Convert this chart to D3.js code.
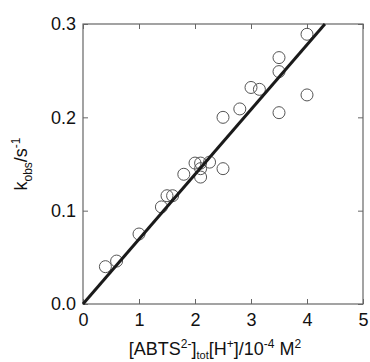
<html>
<head>
  <meta charset="utf-8" />
  <script src="https://cdnjs.cloudflare.com/ajax/libs/d3/7.8.5/d3.min.js"></script>
  <style>
    body { margin: 0; background: #fff; }
    text { font-family: "Liberation Sans", Arial, sans-serif; fill: #111; }
  </style>
</head>
<body>
  <svg width="370" height="362"></svg>
  <script>
  // measured points: x = [ABTS]tot[H+] (1e-4 M^2), y = kobs (1/s)
  const xVals = [0.4, 0.6, 1.0, 1.4, 1.5, 1.6, 1.8, 2.0, 2.1, 2.1, 2.1, 2.26, 2.5, 2.5, 2.8, 3.0, 3.15, 3.5, 3.5, 3.5, 4.0, 4.0]
  const yVals = [0.040, 0.046, 0.075, 0.104, 0.116, 0.116, 0.139, 0.151, 0.151, 0.145, 0.136, 0.152, 0.145, 0.200, 0.209, 0.232, 0.230, 0.264, 0.249, 0.205, 0.289, 0.224]
  const fitX = [0, 4.32]
  const fitY = [0, 0.3]
  const xTicks = [0, 1, 2, 3, 4, 5]
  const yTicks = [0.0, 0.1, 0.2, 0.3]

  const svg = d3.select("svg")
  const mLeft = 83, mRight = 363, mTop = 24, mBottom = 304
  const x = d3.scaleLinear().domain([0, 5]).range([mLeft, mRight])
  const y = d3.scaleLinear().domain([0, 0.3]).range([mBottom, mTop])
  const axisColor = "#666"

  // frame
  svg.append("rect")
    .attr("x", mLeft).attr("y", mTop)
    .attr("width", mRight - mLeft).attr("height", mBottom - mTop)
    .attr("fill", "none").attr("stroke", axisColor).attr("stroke-width", 1.2)

  // axes with inward ticks
  const styleAxis = g => {
    g.select(".domain").remove()
    g.selectAll(".tick line").attr("stroke", axisColor)
    g.selectAll(".tick text").attr("font-size", 18).attr("fill", "#111")
      .attr("font-family", "Liberation Sans, Arial, sans-serif")
  }
  svg.append("g").attr("transform", `translate(0,${mBottom})`)
    .call(d3.axisBottom(x).tickValues(xTicks).tickSizeInner(-5).tickSizeOuter(0).tickPadding(9).tickFormat(d3.format("d")))
    .call(styleAxis)
  svg.append("g").attr("transform", `translate(${mLeft},0)`)
    .call(d3.axisLeft(y).tickValues(yTicks).tickSizeInner(-5).tickSizeOuter(0).tickPadding(7).tickFormat(d3.format(".1f")))
    .call(styleAxis)
  svg.append("g").attr("transform", `translate(0,${mTop})`)
    .call(d3.axisTop(x).tickValues(xTicks).tickSizeInner(-5).tickSizeOuter(0).tickFormat(""))
    .call(styleAxis)
  svg.append("g").attr("transform", `translate(${mRight},0)`)
    .call(d3.axisRight(y).tickValues(yTicks).tickSizeInner(-5).tickSizeOuter(0).tickFormat(""))
    .call(styleAxis)

  // points
  svg.selectAll("circle.pt")
    .data(d3.range(xVals.length))
    .enter()
    .append("circle")
      .attr("class", "pt")
      .attr("cx", i => x(xVals[i]))
      .attr("cy", i => y(yVals[i]))
      .attr("r", 6)
      .attr("fill", "none")
      .attr("stroke", "#555")
      .attr("stroke-width", 1)

  // fitted line
  const line = d3.line().x(d => x(d[0])).y(d => y(d[1]))
  svg.append("path")
    .attr("d", line(fitX.map((v, i) => [v, fitY[i]])))
    .attr("fill", "none")
    .attr("stroke", "#1a1a1a")
    .attr("stroke-width", 3)

  // axis titles
  const xt = svg.append("text")
    .attr("x", 215).attr("y", 355)
    .attr("text-anchor", "middle").attr("font-size", 18)
  xt.append("tspan").text("[ABTS")
  xt.append("tspan").attr("dy", -7).attr("font-size", 12).text("2-")
  xt.append("tspan").attr("dy", 7).text("]")
  xt.append("tspan").attr("dy", 4).attr("font-size", 11).text("tot")
  xt.append("tspan").attr("dy", -4).text("[H")
  xt.append("tspan").attr("dy", -7).attr("font-size", 12).text("+")
  xt.append("tspan").attr("dy", 7).text("]/10")
  xt.append("tspan").attr("dy", -7).attr("font-size", 12).text("-4")
  xt.append("tspan").attr("dy", 7).text(" M")
  xt.append("tspan").attr("dy", -7).attr("font-size", 12).text("2")

  const yt = svg.append("text")
    .attr("transform", "translate(27,164) rotate(-90)")
    .attr("text-anchor", "middle").attr("font-size", 18)
  yt.append("tspan").text("k")
  yt.append("tspan").attr("dy", 5).attr("font-size", 12).text("obs")
  yt.append("tspan").attr("dy", -5).text("/s")
  yt.append("tspan").attr("dy", -7).attr("font-size", 12).text("-1")
  </script>
</body>
</html>
